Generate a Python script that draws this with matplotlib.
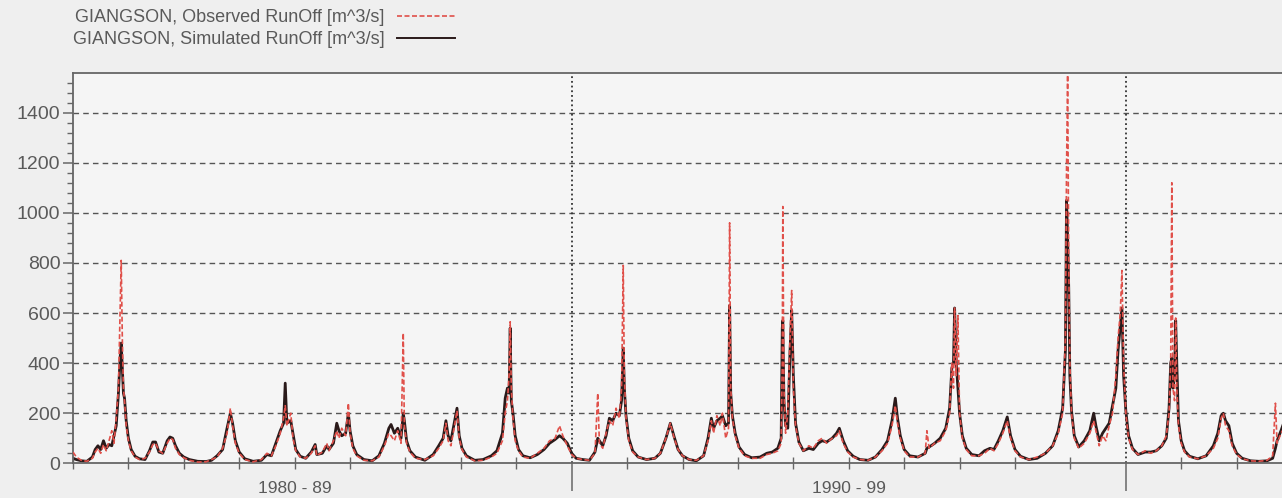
import matplotlib
matplotlib.use("Agg")
import matplotlib.pyplot as plt
from matplotlib.ticker import MultipleLocator, NullFormatter, FixedLocator
import matplotlib.transforms as mtransforms

# ---------------- data ----------------
time_years = [
    1981.00, 1981.06, 1981.15, 1981.25, 1981.35, 1981.40, 1981.45, 1981.50, 1981.55, 1981.60,
    1981.65, 1981.70, 1981.74, 1981.78, 1981.82, 1981.85, 1981.87, 1981.89, 1981.91, 1981.93,
    1981.96, 1982.00, 1982.05, 1982.12, 1982.20, 1982.30, 1982.38, 1982.44, 1982.49, 1982.55,
    1982.62, 1982.70, 1982.75, 1982.80, 1982.85, 1982.92, 1983.00, 1983.10, 1983.25, 1983.40,
    1983.50, 1983.60, 1983.70, 1983.78, 1983.84, 1983.88, 1983.93, 1984.00, 1984.10, 1984.25,
    1984.40, 1984.50, 1984.58, 1984.66, 1984.74, 1984.80, 1984.83, 1984.86, 1984.93, 1984.97,
    1985.02, 1985.10, 1985.20, 1985.30, 1985.37, 1985.40, 1985.50, 1985.58, 1985.62, 1985.70,
    1985.76, 1985.80, 1985.85, 1985.92, 1985.97, 1986.00, 1986.05, 1986.12, 1986.25, 1986.40,
    1986.52, 1986.62, 1986.70, 1986.74, 1986.80, 1986.86, 1986.92, 1986.96, 1986.98, 1987.02,
    1987.08, 1987.18, 1987.35, 1987.50, 1987.60, 1987.68, 1987.73, 1987.77, 1987.82, 1987.87,
    1987.93, 1987.97, 1988.02, 1988.10, 1988.25, 1988.40, 1988.55, 1988.65, 1988.75, 1988.80,
    1988.84, 1988.87, 1988.89, 1988.91, 1988.94, 1988.98, 1989.04, 1989.12, 1989.25, 1989.38,
    1989.50, 1989.60, 1989.70, 1989.78, 1989.84, 1989.92, 1990.00, 1990.08, 1990.20, 1990.32,
    1990.42, 1990.47, 1990.50, 1990.56, 1990.62, 1990.68, 1990.74, 1990.80, 1990.86, 1990.90,
    1990.93, 1990.95, 1990.98, 1991.03, 1991.10, 1991.20, 1991.35, 1991.50, 1991.60, 1991.70,
    1991.78, 1991.85, 1991.92, 1992.00, 1992.12, 1992.25, 1992.38, 1992.46, 1992.52, 1992.56,
    1992.62, 1992.68, 1992.72, 1992.78, 1992.83, 1992.85, 1992.87, 1992.90, 1992.95, 1993.02,
    1993.12, 1993.25, 1993.40, 1993.52, 1993.62, 1993.72, 1993.78, 1993.80, 1993.81, 1993.83,
    1993.86, 1993.90, 1993.94, 1993.97, 1994.00, 1994.04, 1994.10, 1994.18, 1994.28, 1994.36,
    1994.45, 1994.52, 1994.60, 1994.70, 1994.78, 1994.83, 1994.90, 1994.98, 1995.08, 1995.20,
    1995.35, 1995.48, 1995.60, 1995.70, 1995.78, 1995.84, 1995.88, 1995.93, 1996.00, 1996.10,
    1996.25, 1996.38, 1996.41, 1996.45, 1996.55, 1996.65, 1996.75, 1996.82, 1996.86, 1996.89,
    1996.91, 1996.94, 1996.97, 1997.00, 1997.05, 1997.12, 1997.22, 1997.35, 1997.45, 1997.55,
    1997.62, 1997.70, 1997.78, 1997.86, 1997.92, 1998.00, 1998.10, 1998.25, 1998.40, 1998.55,
    1998.68, 1998.78, 1998.86, 1998.91, 1998.93, 1998.95, 1998.97, 1998.99, 1999.02, 1999.07,
    1999.15, 1999.25, 1999.35, 1999.42, 1999.46, 1999.52, 1999.58, 1999.64, 1999.70, 1999.76,
    1999.82, 1999.86, 1999.90, 1999.93, 1999.96, 2000.00, 2000.05, 2000.12, 2000.22, 2000.35,
    2000.45, 2000.55, 2000.65, 2000.73, 2000.78, 2000.81, 2000.83, 2000.85, 2000.88, 2000.90,
    2000.92, 2000.95, 2001.00, 2001.06, 2001.15, 2001.30, 2001.45, 2001.58, 2001.66, 2001.72,
    2001.76, 2001.80, 2001.86, 2001.92, 2002.00, 2002.10, 2002.25, 2002.40, 2002.55, 2002.65,
    2002.70, 2002.73, 2002.80, 2002.88, 2002.92, 2002.96, 2003.00,
]

observed_runoff = [
    45, 25, 12, 8, 20, 45, 60, 40, 75, 50,
    90, 130, 80, 180, 300, 600, 810, 500, 300, 250,
    150, 90, 50, 25, 15, 20, 45, 75, 80, 50,
    40, 80, 100, 95, 60, 35, 22, 12, 5, 6,
    15, 25, 60, 120, 220, 150, 80, 40, 15, 6,
    15, 40, 30, 70, 120, 180, 230, 150, 200, 100,
    50, 25, 20, 40, 70, 30, 45, 80, 50, 90,
    130, 100, 140, 110, 240, 120, 60, 30, 12, 10,
    25, 70, 120, 110, 90, 130, 80, 520, 150, 80,
    45, 20, 15, 30, 60, 90, 160, 90, 70, 130,
    210, 100, 55, 25, 10, 12, 25, 40, 90, 200,
    250, 350, 565, 300, 180, 90, 50, 25, 20, 40,
    60, 90, 100, 150, 110, 70, 35, 20, 15, 12,
    40, 280, 80, 60, 120, 170, 150, 220, 180, 300,
    790, 350, 180, 90, 45, 25, 15, 20, 40, 100,
    160, 100, 55, 30, 15, 12, 30, 90, 170, 120,
    190, 150, 200, 100, 140, 960, 300, 180, 110, 60,
    30, 20, 20, 35, 40, 50, 80, 400, 1025, 300,
    120, 200, 500, 690, 300, 150, 80, 50, 70, 60,
    90, 100, 80, 100, 110, 130, 80, 45, 25, 15,
    12, 25, 50, 80, 150, 230, 160, 100, 50, 25,
    25, 40, 130, 60, 80, 90, 130, 200, 400, 300,
    620, 350, 590, 200, 100, 55, 30, 30, 40, 60,
    50, 80, 120, 170, 100, 50, 25, 15, 25, 40,
    70, 120, 200, 500, 1170, 1550, 800, 400, 200, 100,
    60, 80, 120, 170, 130, 70, 110, 90, 150, 200,
    350, 500, 600, 770, 400, 200, 100, 55, 35, 50,
    40, 50, 70, 110, 200, 400, 1120, 300, 250, 580,
    300, 150, 80, 45, 25, 18, 30, 60, 100, 180,
    200, 150, 130, 70, 35, 18, 10, 8, 12, 30,
    240, 80, 120, 150, 130, 250, 300,
]

simulated_runoff = [
    20, 15, 10, 8, 25, 55, 70, 55, 90, 60,
    75, 70, 110, 150, 280, 420, 480, 380, 280, 260,
    170, 100, 55, 28, 18, 15, 50, 85, 85, 45,
    40, 90, 105, 100, 70, 40, 25, 15, 8, 7,
    12, 30, 55, 140, 200, 160, 90, 45, 18, 8,
    12, 35, 30, 80, 130, 160, 320, 160, 170, 120,
    55, 28, 20, 45, 75, 35, 40, 70, 55, 80,
    160, 130, 110, 120, 200, 130, 70, 35, 15, 10,
    30, 80, 140, 155, 120, 140, 100, 200, 170, 90,
    50, 25, 12, 35, 70, 100, 170, 110, 90, 150,
    220, 110, 60, 30, 12, 15, 30, 50, 120, 260,
    300, 280, 540, 250, 200, 110, 55, 30, 22, 35,
    55, 80, 95, 110, 100, 80, 40, 20, 15, 12,
    45, 100, 90, 70, 110, 180, 170, 200, 190, 250,
    460, 300, 190, 100, 50, 25, 15, 20, 40, 100,
    160, 105, 55, 30, 15, 10, 30, 100, 180, 140,
    170, 180, 190, 150, 160, 630, 280, 190, 120, 65,
    35, 22, 25, 40, 45, 60, 100, 540, 570, 250,
    150, 140, 450, 610, 350, 160, 85, 50, 60, 55,
    80, 90, 85, 100, 120, 140, 90, 50, 28, 15,
    12, 25, 55, 90, 170, 260, 180, 110, 55, 30,
    25, 40, 60, 65, 80, 100, 140, 220, 380, 400,
    620, 400, 300, 200, 110, 60, 35, 30, 50, 60,
    55, 90, 130, 185, 110, 55, 28, 15, 20, 40,
    70, 130, 220, 450, 1050, 900, 700, 350, 210, 110,
    65, 90, 130, 200, 150, 90, 120, 140, 160, 230,
    300, 450, 550, 620, 350, 210, 110, 60, 35, 45,
    45, 50, 70, 100, 220, 400, 420, 300, 350, 570,
    400, 170, 90, 50, 28, 18, 30, 70, 120, 190,
    200, 170, 150, 80, 40, 20, 10, 8, 10, 20,
    60, 90, 130, 180, 150, 250, 200,
]

y_major_ticks = [0, 200, 400, 600, 800, 1000, 1200, 1400]
decade_boundaries = [1990, 2000]
decade_label_positions = [1985, 1995]
decade_labels = ["1980 - 89", "1990 - 99"]
series_labels = ["GIANGSON, Observed RunOff [m^3/s]", "GIANGSON, Simulated RunOff [m^3/s]"]

# ---------------- figure ----------------
plt.rcParams['font.family'] = ['Liberation Sans', 'DejaVu Sans']
BG = '#efefef'
TXT = '#5a5a5a'
fig = plt.figure(figsize=(12.82, 4.98), dpi=100, facecolor=BG)
ax = fig.add_axes([73 / 1282, 1 - 463.3 / 498, 1 - 73 / 1282 + 0.01, (463.3 - 73.3) / 498])
ax.set_facecolor('#f5f5f5')

ax.set_xlim(1981.0, 2003.05)
ax.set_ylim(0, 1557)

# grid lines
for yv in y_major_ticks[1:]:
    ax.axhline(yv, color='#555555', lw=1.0, ls=(0, (4, 3)), zorder=1)
for xv in decade_boundaries:
    ax.axvline(xv, color='#333333', lw=1.3, ls=(0, (1.0, 1.6)), zorder=1)

obs_line, = ax.plot(time_years, observed_runoff, color='#e0504a', lw=1.2,
                    ls=(0, (3, 1.5)), zorder=3, label=series_labels[0])
sim_line, = ax.plot(time_years, simulated_runoff, color='#2a1a1a', lw=2.0,
                    zorder=2, label=series_labels[1])

# spines
ax.spines['right'].set_visible(False)
for s in ['top', 'left', 'bottom']:
    ax.spines[s].set_color('#666666')
    ax.spines[s].set_linewidth(1.3)

# y ticks
ax.yaxis.set_major_locator(FixedLocator(y_major_ticks))
ax.yaxis.set_minor_locator(MultipleLocator(40))
ax.tick_params(axis='y', which='major', direction='out', length=7, width=1.1,
               color='#666666', labelcolor=TXT, labelsize=14, pad=2)
ax.tick_params(axis='y', which='minor', direction='out', length=4, width=1.0, color='#666666')

# x ticks
ax.xaxis.set_major_locator(FixedLocator(decade_boundaries))
ax.xaxis.set_major_formatter(NullFormatter())
ax.xaxis.set_minor_locator(MultipleLocator(1))
ax.tick_params(axis='x', which='major', direction='out', length=20, width=1.1, color='#666666')
ax.tick_params(axis='x', which='minor', direction='inout', length=8, width=1.0, color='#666666')

trans = mtransforms.blended_transform_factory(ax.transData, ax.transAxes)
for xp, lab in zip(decade_label_positions, decade_labels):
    ax.text(xp, -0.045, lab, transform=trans, ha='center', va='top',
            fontsize=12.5, color=TXT)

leg = ax.legend(handles=[obs_line, sim_line], loc='lower left',
                bbox_to_anchor=(0.0, 1.065), frameon=False, markerfirst=False,
                fontsize=13, handlelength=3.2, handletextpad=0.7,
                labelspacing=0.25, borderaxespad=0, borderpad=0)
for t in leg.get_texts():
    t.set_color(TXT)
leg.legend_handles[1].set_linewidth(1.4)

fig.savefig('out.png', dpi=100, facecolor=BG)
